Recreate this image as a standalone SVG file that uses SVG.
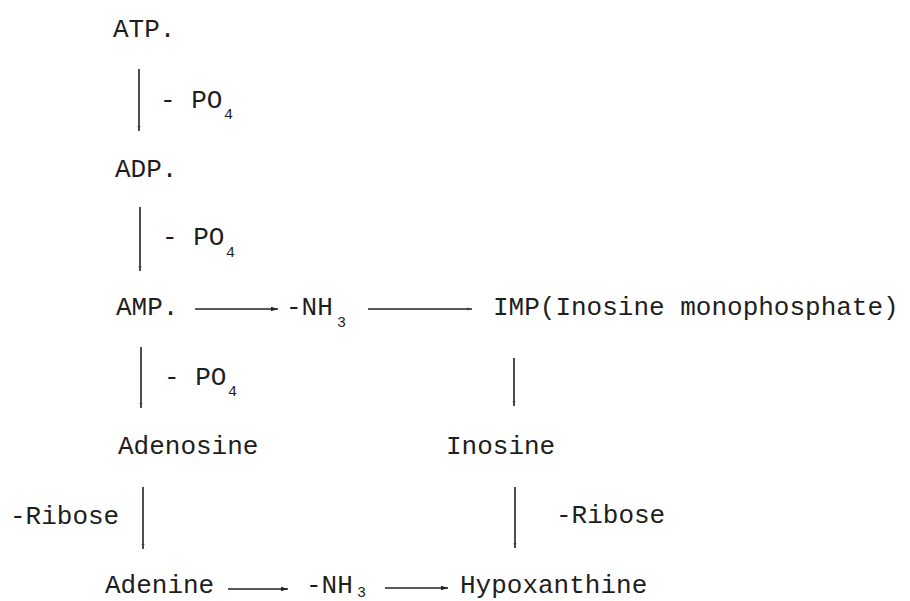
<svg xmlns="http://www.w3.org/2000/svg" width="910" height="601" viewBox="0 0 910 601">
<defs>
<style>
text{font-family:"Liberation Mono","DejaVu Sans Mono",monospace;fill:#1e1e1e;}
.t{font-size:26px;}
.s{font-size:15px;}
.c{stroke:#222;stroke-width:1.6;fill:none;}
</style>
<marker id="ah" markerUnits="userSpaceOnUse" markerWidth="8" markerHeight="6" refX="7" refY="3" orient="auto">
<path d="M0,0.8 L7,3 L0,5.2 Z" fill="#222"/>
</marker>
<marker id="ahs" markerUnits="userSpaceOnUse" markerWidth="6" markerHeight="5" refX="5" refY="2.5" orient="auto">
<path d="M0,1 L5,2.5 L0,4 Z" fill="#444"/>
</marker>
</defs>
<rect width="910" height="601" fill="#fff"/>
<g id="connectors">
<line class="c" x1="139" y1="69" x2="139" y2="131" marker-end="url(#ahs)"/>
<line class="c" x1="140" y1="207" x2="140" y2="271" marker-end="url(#ahs)"/>
<line class="c" x1="141" y1="347" x2="141" y2="408" marker-end="url(#ahs)"/>
<line class="c" x1="143" y1="487" x2="143" y2="549" marker-end="url(#ahs)"/>
<line class="c" x1="514" y1="358" x2="514" y2="406" marker-end="url(#ahs)"/>
<line class="c" x1="515" y1="487" x2="515" y2="548" marker-end="url(#ahs)"/>
<line class="c" x1="195" y1="309" x2="278" y2="309" marker-end="url(#ah)"/>
<line class="c" x1="368" y1="309" x2="472" y2="309" marker-end="url(#ahs)"/>
<line class="c" x1="228" y1="589" x2="288" y2="589" marker-end="url(#ah)"/>
<line class="c" x1="385" y1="588" x2="448" y2="588" marker-end="url(#ah)"/>
<g id="labels">
<text class="t" x="160" y="108">- PO</text><text class="s" x="224" y="119">4</text>
<text class="t" x="162" y="245">- PO</text><text class="s" x="226" y="257">4</text>
<text class="t" x="164" y="385">- PO</text><text class="s" x="228" y="396">4</text>
<text class="t" x="10" y="524">-Ribose</text>
<text class="t" x="556" y="523">-Ribose</text>
</g>
</g>
<g id="ATP"><text class="t" x="113" y="37">ATP.</text></g>
<g id="ADP"><text class="t" x="115" y="177">ADP.</text></g>
<g id="AMP"><text class="t" x="116" y="315">AMP.</text></g>
<g id="NH3-top"><text class="t" x="286" y="315">-NH</text><text class="s" x="337" y="327">3</text></g>
<g id="IMP"><text class="t" x="493" y="315">IMP(Inosine monophosphate)</text></g>
<g id="Adenosine"><text class="t" x="118" y="454">Adenosine</text></g>
<g id="Inosine"><text class="t" x="446" y="454">Inosine</text></g>
<g id="Adenine"><text class="t" x="105" y="593">Adenine</text></g>
<g id="NH3-bottom"><text class="t" x="306" y="593">-NH</text><text class="s" x="357" y="597">3</text></g>
<g id="Hypoxanthine"><text class="t" x="460" y="593">Hypoxanthine</text></g>
</svg>
